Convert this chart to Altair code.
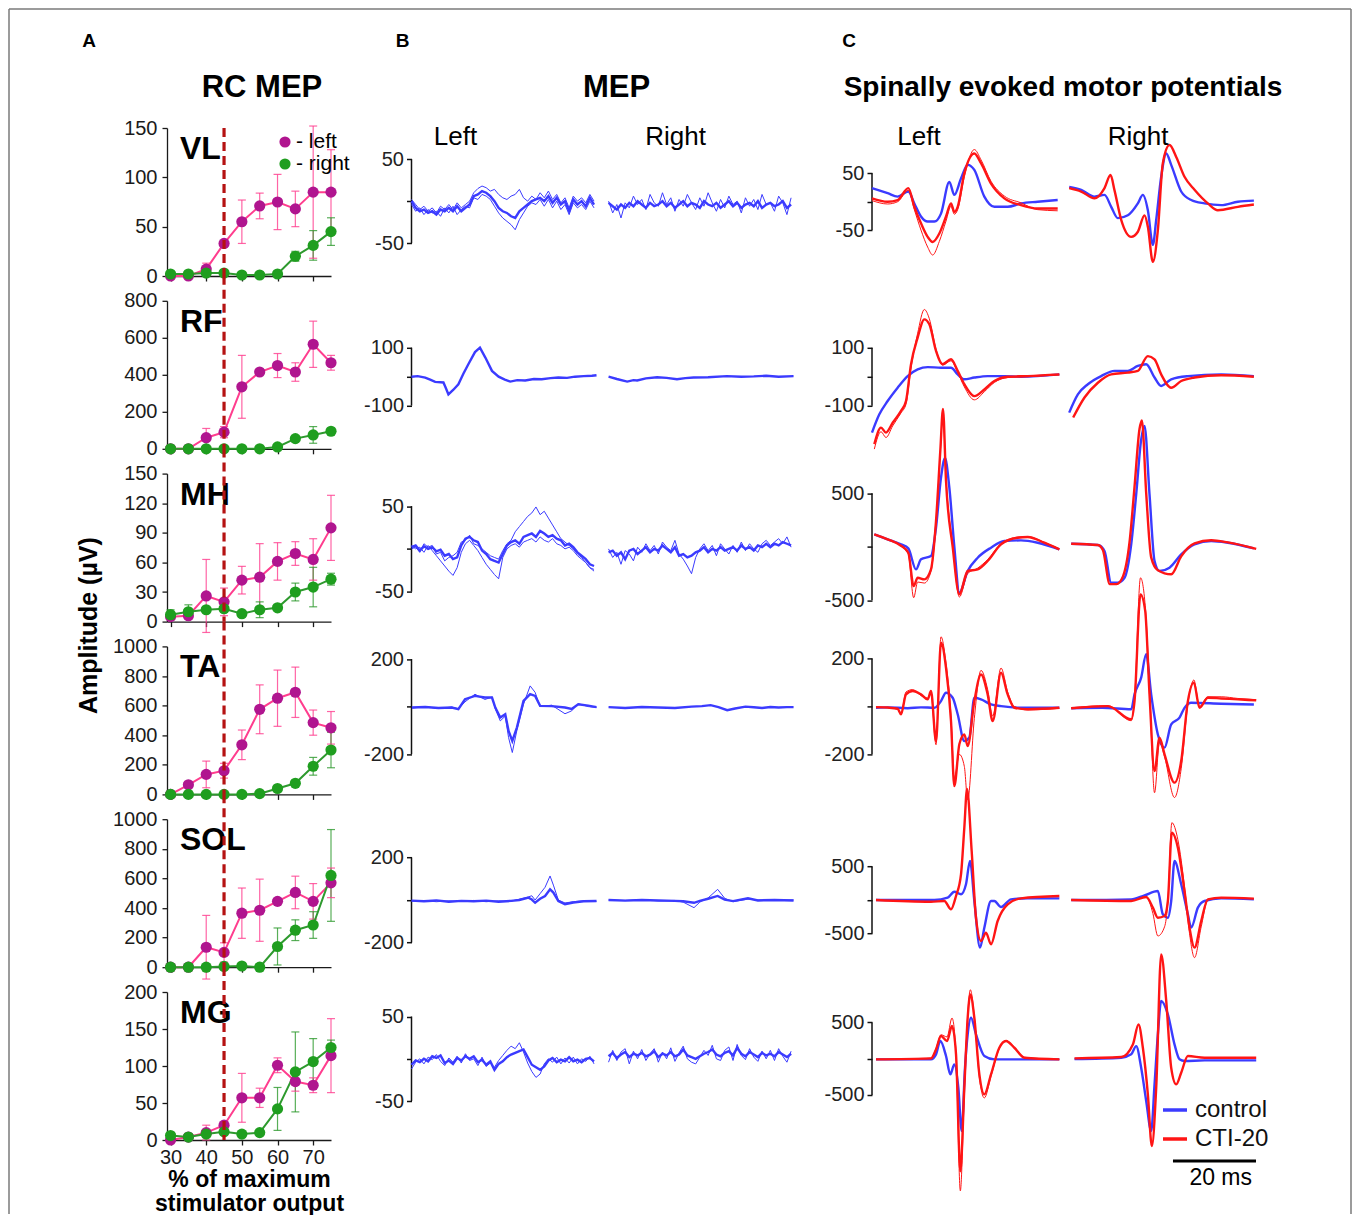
import altair as alt
import pandas as pd

FONT = "Liberation Sans"
INK = "#1a1a1a"
PINK = "#ff3d8e"
MAGENTA = "#b0158f"
GREEN = "#2e9a2e"
GREEN_DOT = "#1f9e1f"
BLUE = "#3b3bff"
RED = "#ff1515"
DASH_RED = "#b51212"

# ---------------- Panel A: recruitment curves ----------------
PCT = [30, 35, 40, 45, 50, 55, 60, 65, 70, 75]
MUSCLES = ["VL", "RF", "MH", "TA", "SOL", "MG"]
SIDES = ["left", "right"]
THRESHOLD = [45]

VL_LEFT = [0, 0, 7, 33, 55, 71, 75, 68, 85, 85]
VL_LEFT_ERR = [0, 0, 6, 0, 22, 13, 28, 18, 67, 43]
VL_RIGHT = [2, 2, 3, 3, 1, 1, 2, 20, 31, 45]
VL_RIGHT_ERR = [0, 0, 0, 0, 0, 0, 0, 5, 15, 14]

RF_LEFT = [0, 0, 60, 90, 335, 415, 450, 415, 565, 465]
RF_LEFT_ERR = [0, 0, 50, 30, 170, 10, 65, 50, 125, 40]
RF_RIGHT = [0, 0, 0, 0, 0, 0, 10, 55, 75, 95]
RF_RIGHT_ERR = [0, 0, 0, 0, 0, 0, 0, 0, 45, 10]

MH_LEFT = [5, 6, 26, 20, 42, 45, 61, 69, 63, 95]
MH_LEFT_ERR = [0, 0, 37, 14, 14, 34, 19, 12, 21, 33]
MH_RIGHT = [7, 10, 12, 13, 8, 12, 14, 30, 35, 43]
MH_RIGHT_ERR = [5, 7, 0, 0, 0, 8, 0, 9, 20, 6]

TA_LEFT = [0, 65, 135, 160, 335, 575, 650, 690, 485, 450]
TA_LEFT_ERR = [0, 0, 90, 50, 100, 165, 190, 170, 85, 110]
TA_RIGHT = [0, 0, 0, 0, 0, 5, 40, 75, 190, 300]
TA_RIGHT_ERR = [0, 0, 0, 0, 0, 0, 0, 0, 60, 120]

SOL_LEFT = [0, 0, 135, 100, 365, 385, 445, 505, 445, 570]
SOL_LEFT_ERR = [0, 0, 215, 65, 170, 210, 0, 110, 120, 100]
SOL_RIGHT = [0, 0, 0, 5, 8, 0, 140, 250, 285, 620]
SOL_RIGHT_ERR = [0, 0, 0, 0, 0, 0, 125, 70, 90, 310]

MG_LEFT = [0, 4, 10, 20, 57, 57, 101, 79, 74, 114]
MG_LEFT_ERR = [0, 0, 10, 0, 33, 13, 10, 13, 10, 50]
MG_RIGHT = [6, 4, 8, 11, 8, 10, 42, 92, 106, 125]
MG_RIGHT_ERR = [0, 0, 0, 0, 0, 0, 29, 54, 31, 10]

A_VALUES = [
    (VL_LEFT, VL_LEFT_ERR, VL_RIGHT, VL_RIGHT_ERR),
    (RF_LEFT, RF_LEFT_ERR, RF_RIGHT, RF_RIGHT_ERR),
    (MH_LEFT, MH_LEFT_ERR, MH_RIGHT, MH_RIGHT_ERR),
    (TA_LEFT, TA_LEFT_ERR, TA_RIGHT, TA_RIGHT_ERR),
    (SOL_LEFT, SOL_LEFT_ERR, SOL_RIGHT, SOL_RIGHT_ERR),
    (MG_LEFT, MG_LEFT_ERR, MG_RIGHT, MG_RIGHT_ERR),
]
A_YMAX = [150, 800, 150, 1000, 1000, 200]
A_YSTEP = [50, 200, 30, 200, 200, 50]

# ---------------- Panel B: MEP traces (µV vs ms) ----------------
T45 = list(range(45))

B_VL_L = [0, -8, -12, -10, -14, -12, -16, -10, -12, -8, -12, -6, -12, -8, -4, 6, 8, 12, 10, 6, 0, -8, -12, -14, -18, -20, -12, -8, -4, 0, 2, 4, 0, 6, -2, 4, -4, 0, -12, 2, -4, 0, -6, 4, -4]
B_VL_L_S1 = [2, -4, -10, -6, -12, -8, -14, -6, -10, -4, -10, -2, -8, -4, 0, 10, 15, 18, 16, 12, 14, 8, 4, 2, 6, 8, 14, 4, 0, 6, 2, 10, 4, 12, 2, 8, -2, 4, -8, 6, 0, 4, -2, 8, 0]
B_VL_L_S2 = [-4, -12, -8, -16, -10, -14, -12, -18, -8, -14, -6, -16, -10, -6, -8, 4, 2, 8, 6, 2, -6, -14, -20, -24, -28, -34, -22, -14, -6, -2, -4, 2, -6, 2, -8, 0, -10, -4, -16, -2, -8, -4, -10, 0, -8]
B_VL_R = [-2, -6, -10, -4, -8, -2, -6, 0, -4, -8, -2, -6, -4, 0, -6, -2, -8, -4, 0, -6, -2, -4, -8, 0, -4, -6, -2, -8, -4, 0, -6, -2, -8, -4, -2, -6, 0, -8, -4, -2, -6, -4, 0, -8, -4]
B_VL_R_S1 = [0, -14, -4, -20, -2, -8, 6, -4, 2, -10, 8, -2, -6, 10, -4, 4, -12, 2, -6, 8, -2, -10, 4, -6, 10, -2, -12, 2, -8, 6, -4, 0, -14, 4, -6, 2, -10, 8, -4, -2, -12, 6, -2, -16, 4]

B_RF_L_T = [0, 1.5, 3.3, 4.5, 5.7, 7.7, 8.3, 8.9, 10.1, 11.3, 12.5, 13.7, 15.3, 16.5, 17.8, 19.4, 21.0, 22.5, 23.8, 25.5, 27.4, 29.5, 31.4, 33.5, 35.4, 37.5, 39.4, 41.5, 43.5, 44.6]
B_RF_L = [0, 2, -3, -10, -18, -20, -40, -61, -45, -26, 10, 43, 85, 100, 66, 20, 0, -10, -17, -12, -13, -8, -9, -5, -3, -4, 0, 2, 3, 5]
B_RF_R_T = [0, 2, 4.5, 6, 6.9, 9, 11.7, 14, 16.5, 18.5, 20.5, 24, 28.5, 32, 35, 38, 41, 44.6]
B_RF_R = [0, -8, -17, -12, -13, -6, -2, -4, -9, -5, -3, -2, 2, 0, 1, 3, 0, 2]

B_MH_L = [2, 4, -2, 3, 0, 2, -3, -1, -8, -6, -12, -10, 4, 12, 14, 10, 8, -2, -6, -12, -14, -16, -6, 4, 8, 10, 6, 14, 16, 18, 14, 21, 18, 14, 16, 12, 10, 4, 6, 2, -4, -8, -12, -18, -20]
B_MH_L_S1 = [0, 2, -4, 6, 2, 4, -6, -4, -14, -10, -8, -4, 8, 10, 16, 6, 4, 0, -4, -8, -10, -12, -2, 6, 10, 20, 26, 32, 38, 42, 49, 40, 44, 36, 28, 20, 12, 8, 4, 0, -6, -10, -16, -22, -26]
B_MH_L_S2 = [4, 0, 2, -4, 4, -2, -8, -14, -20, -26, -31, -22, -4, 6, 10, 4, -2, -10, -18, -24, -30, -35, -10, 0, 4, 6, 2, 8, 10, 12, 8, 14, 10, 8, 12, 6, 4, 0, 2, -2, -8, -12, -16, -22, -24]
B_MH_R = [-4, -2, -8, -4, -12, -2, 0, -6, -2, 2, -4, 0, -2, 4, 0, -4, 2, -8, -6, -10, -8, -4, -2, 2, -4, 0, -2, 2, -2, 0, 2, -2, 4, 0, 2, -2, 4, 2, 6, 2, 6, 4, 8, 6, 4]
B_MH_R_S1 = [0, -10, -4, -18, -2, -6, -14, 2, -4, 6, -2, 4, -6, 8, 2, -2, 10, -6, -12, -20, -29, -10, 0, 6, -2, 4, -8, 6, 0, -6, 4, -4, 8, -2, 6, 0, -4, 6, 10, 4, 8, 12, 6, 14, 2]

B_TA_L_T = [0.1, 3.3, 6.5, 9.7, 11.3, 12.9, 15.3, 17.7, 19.4, 20.2, 21.4, 22.6, 23.4, 24.3, 25.4, 27.0, 28.6, 29.8, 31.0, 33.8, 37.0, 38.6, 40.2, 42.6, 44.6]
B_TA_L = [-4, -2, -6, -4, -11, 31, 45, 38, 38, -4, -46, -32, -102, -144, -88, 24, 52, 45, 3, 2, -4, -10, 10, 4, -2]
B_TA_L_S1 = [-6, 0, -8, -2, -9, 20, 52, 30, 40, -10, -60, -40, -130, -193, -100, 10, 87, 60, 0, 6, -30, -18, 12, 0, -4]
B_TA_R_T = [0, 4, 8, 12, 16, 20, 22.5, 24.6, 26.5, 28.6, 30.5, 33, 35, 37, 39, 41, 43, 44.6]
B_TA_R = [-2, -6, -2, -4, -6, 0, 2, 6, -2, -15, -8, 0, -3, -6, -2, -4, -2, -2]

B_SOL_L_T = [0, 3, 6, 9, 12, 15, 18, 21, 24, 26, 28.2, 29, 29.8, 31, 32.2, 33.4, 34.2, 35.4, 37, 39, 41.5, 44.6]
B_SOL_L = [-3, -6, -2, -8, -4, -6, -3, -8, -4, 0, 11, 2, -13, 6, 19, 50, 35, -5, -20, -12, -6, -5]
B_SOL_L_S1 = [-5, -3, -8, -4, -6, -2, -8, -4, -6, 4, 15, 20, 0, 30, 60, 113, 70, 0, -14, -8, -4, -6]
B_SOL_R_T = [0, 4, 8, 12, 16, 18, 20.6, 22, 24, 26.3, 28, 30, 33.6, 36, 40, 44.6]
B_SOL_R = [0, -3, 0, -2, -4, -6, -13, -4, 6, 19, 2, -5, 8, -2, 0, -2]
B_SOL_R_S1 = [0, -2, 2, -4, -2, -10, -36, -10, 10, 50, 8, -8, 4, 0, -2, 0]

B_MG_L = [-7, -2, -4, 0, -3, 3, 1, 4, -5, -2, -6, 1, -2, 3, 0, 3, -4, -1, -7, -3, -13, -6, -3, 2, 5, 7, 9, 11, 2, -7, -10, -13, -9, -2, 1, -4, -1, -3, 2, -3, -1, -4, 0, 1, -3]
B_MG_L_S1 = [-12, -4, 0, -6, 2, -1, 5, -3, -8, 1, -4, 3, -5, 6, -2, 0, -8, 2, -9, -5, -10, -2, 4, 10, 15, 12, 19, 8, -5, -15, -22, -18, -6, 0, -4, 2, -6, 1, -5, 2, -6, 0, -3, 3, -6]
B_MG_R = [3, 7, 1, 5, 8, 2, 6, 4, 7, 3, 5, 9, 2, 6, 4, 8, 3, 5, 11, 4, 2, 0, 3, 6, 8, 11, 5, 3, 7, 9, 4, 13, 6, 3, 8, 5, 2, 7, 4, 6, 3, 8, 5, 2, 6]
B_MG_R_S1 = [-4, 10, -2, 8, 12, -6, 9, 0, 11, -2, 6, 12, -4, 8, 0, 13, -3, 7, 15, 0, -4, -6, 2, 10, 4, 16, 0, -2, 10, 14, -2, 17, 4, -1, 12, 2, -3, 9, 0, 10, -2, 12, 3, -4, 9]

B_TRACES = [
    ("VL", "Left", "control", "sweep", T45, B_VL_L_S1),
    ("VL", "Left", "control", "sweep", T45, B_VL_L_S2),
    ("VL", "Left", "control", "mean", T45, B_VL_L),
    ("VL", "Right", "control", "sweep", T45, B_VL_R_S1),
    ("VL", "Right", "control", "mean", T45, B_VL_R),
    ("RF", "Left", "control", "mean", B_RF_L_T, B_RF_L),
    ("RF", "Right", "control", "mean", B_RF_R_T, B_RF_R),
    ("MH", "Left", "control", "sweep", T45, B_MH_L_S1),
    ("MH", "Left", "control", "sweep", T45, B_MH_L_S2),
    ("MH", "Left", "control", "mean", T45, B_MH_L),
    ("MH", "Right", "control", "sweep", T45, B_MH_R_S1),
    ("MH", "Right", "control", "mean", T45, B_MH_R),
    ("TA", "Left", "control", "sweep", B_TA_L_T, B_TA_L_S1),
    ("TA", "Left", "control", "mean", B_TA_L_T, B_TA_L),
    ("TA", "Right", "control", "mean", B_TA_R_T, B_TA_R),
    ("SOL", "Left", "control", "sweep", B_SOL_L_T, B_SOL_L_S1),
    ("SOL", "Left", "control", "mean", B_SOL_L_T, B_SOL_L),
    ("SOL", "Right", "control", "sweep", B_SOL_R_T, B_SOL_R_S1),
    ("SOL", "Right", "control", "mean", B_SOL_R_T, B_SOL_R),
    ("MG", "Left", "control", "sweep", T45, B_MG_L_S1),
    ("MG", "Left", "control", "mean", T45, B_MG_L),
    ("MG", "Right", "control", "sweep", T45, B_MG_R_S1),
    ("MG", "Right", "control", "mean", T45, B_MG_R),
]

# ---------------- Panel C: spinally evoked potentials (µV vs ms) ----------------
C_VL_L_BT = [0, 3.77, 6.18, 8.75, 10.20, 11.80, 13.41, 15.02, 16.62, 18.63, 19.83, 21.44, 23.05, 24.65, 27.06, 29.47, 32.68, 35.89, 39.91, 44.73]
C_VL_L_B = [24, 15, 9, 18, -3, -26, -35, -35, -21, 35, 12, 41, 65, 56, 9, -9, -9, -3, 0, 3]
C_VL_L_RT = [0, 3.77, 6.18, 8.75, 10.20, 11.80, 13.41, 14.61, 16.22, 17.83, 19.03, 19.83, 20.64, 22.24, 24.65, 26.26, 28.67, 31.88, 35.89, 39.91, 44.73]
C_VL_L_R = [6, 0, 3, 24, -9, -38, -62, -71, -56, -26, -3, -18, -9, 50, 85, 68, 32, 6, -6, -12, -12]
C_VL_L_R2 = [2, -4, 0, 20, -14, -50, -80, -94, -70, -34, -8, -22, -14, 44, 92, 74, 36, 10, -2, -14, -16]
C_VL_R_BT = [0, 2.89, 6.10, 8.51, 10.12, 11.72, 14.13, 16.54, 17.75, 18.95, 20.16, 20.96, 22.16, 23.37, 24.57, 26.98, 29.39, 32.60, 36.62, 40.63, 44.49]
C_VL_R_B = [26, 21, 9, 12, -9, -29, -24, -3, 12, -15, -76, -32, 44, 85, 65, 18, 3, -3, -6, 0, 2]
C_VL_R_RT = [0, 2.89, 6.10, 8.51, 9.96, 10.92, 12.53, 14.94, 16.54, 18.15, 18.95, 20.16, 21.36, 22.56, 24.17, 25.78, 27.78, 30.19, 33.40, 35.81, 40.63, 44.49]
C_VL_R_R = [24, 18, 6, 24, 47, 20, -32, -62, -53, -24, -44, -106, -50, 68, 100, 79, 44, 21, -3, -15, -9, -5]

C_RF_L_BT = [0, 1.77, 3.77, 6.18, 8.59, 11.00, 13.41, 16.62, 19.03, 20.64, 22.24, 24.65, 27.86, 31.88, 35.89, 45.13]
C_RF_L_B = [-193, -130, -84, -38, 2, 25, 33, 31, 31, 8, -9, -3, 2, 2, 0, 8]
C_RF_L_RT = [0.56, 2.17, 3.37, 4.98, 6.99, 8.19, 9.40, 11.00, 12.61, 13.81, 15.42, 17.02, 19.03, 20.64, 22.24, 24.65, 27.06, 29.47, 32.68, 37.50, 45.13]
C_RF_L_R = [-233, -176, -193, -159, -118, -84, 43, 135, 198, 181, 89, 43, 60, 20, -26, -67, -44, -15, 0, 2, 8]
C_RF_L_R2 = [-250, -190, -210, -170, -125, -95, 30, 150, 232, 200, 95, 40, 55, 15, -35, -80, -52, -20, -3, 0, 6]
C_RF_R_BT = [0, 2.09, 4.50, 7.71, 10.92, 14.13, 16.54, 18.55, 20.56, 22.16, 24.57, 28.59, 36.62, 44.49]
C_RF_R_B = [-124, -61, -26, 2, 20, 20, 37, 43, -3, -32, -9, 2, 8, 2]
C_RF_R_RT = [0.96, 3.69, 6.91, 10.12, 14.13, 16.54, 18.95, 20.56, 22.16, 24.57, 26.98, 30.19, 36.62, 44.49]
C_RF_R_R = [-141, -72, -21, 8, 14, 20, 71, 60, 8, -38, -15, -3, 5, 0]

C_MH_L_BT = [0.56, 3.77, 6.99, 8.75, 10.60, 11.80, 14.21, 15.42, 16.62, 17.59, 18.63, 19.83, 21.04, 23.05, 25.46, 28.67, 31.88, 35.89, 39.91, 45.13]
C_MH_L_B = [115, 69, 22, -16, -212, -118, -87, 178, 645, 829, 551, 0, -430, -227, -103, -9, 53, 59, 37, -25]
C_MH_L_RT = [0.56, 3.77, 6.99, 8.75, 10.04, 11.00, 12.61, 14.21, 15.42, 16.46, 17.10, 17.83, 19.43, 21.04, 23.05, 25.46, 27.86, 31.08, 35.09, 37.50, 41.52, 45.13]
C_MH_L_R = [115, 69, 9, -56, -368, -290, -305, -212, 240, 900, 1287, 614, 0, -445, -227, -212, -134, 22, 84, 90, 37, -25]
C_MH_L_R2 = [115, 69, 5, -70, -477, -330, -340, -230, 220, 880, 1250, 640, 20, -470, -250, -200, -120, 30, 90, 95, 40, -20]
C_MH_R_BT = [0.48, 6.91, 8.51, 10.12, 11.72, 13.33, 14.94, 16.14, 17.34, 18.15, 19.35, 20.56, 21.76, 24.17, 26.98, 30.19, 34.21, 38.22, 44.49]
C_MH_R_B = [28, 16, -40, -336, -336, -290, 22, 489, 1000, 1128, 489, -134, -227, -196, -72, 22, 53, 37, -16]
C_MH_R_RT = [0.48, 6.91, 8.11, 9.79, 11.40, 12.93, 14.53, 15.74, 16.94, 17.51, 18.55, 19.75, 21.36, 24.57, 26.98, 30.19, 34.21, 38.22, 45.05]
C_MH_R_R = [28, 16, -30, -350, -350, -280, 40, 560, 1100, 1180, 500, -100, -220, -258, -90, 30, 60, 40, -20]

C_TA_L_BT = [0.96, 3.77, 8.59, 11.80, 15.02, 16.62, 17.83, 19.43, 20.64, 22.24, 23.45, 24.65, 26.26, 28.67, 31.08, 35.89, 45.13]
C_TA_L_B = [-6, -4, -8, -4, -6, 22, 57, 36, -33, -145, -130, 36, 29, 8, 1, -6, -6]
C_TA_L_RT = [0.96, 3.77, 6.18, 6.99, 8.19, 9.80, 11.80, 13.41, 14.21, 15.42, 16.62, 17.83, 19.03, 19.83, 21.04, 22.24, 23.05, 24.65, 26.26, 27.86, 29.07, 31.08, 32.68, 34.29, 37.50, 45.13]
C_TA_L_R = [-3, -5, -10, -33, 50, 64, 50, 29, 64, -145, 265, 161, -61, -332, -158, -117, -165, 22, 133, 50, -61, 140, 50, -6, -12, -6]
C_TA_L_R2 = [-3, -5, -12, -30, 60, 70, 45, 35, 55, -160, 290, 180, -40, -300, -200, -250, -390, -50, 150, 70, -40, 160, 60, 0, -15, -8]
C_TA_R_BT = [0.48, 8, 14.94, 15.74, 17.34, 18.55, 19.75, 21.36, 22.97, 24.57, 26.58, 27.78, 29.39, 36.62, 44.49]
C_TA_R_B = [-8, -6, -12, 50, 120, 217, 50, -117, -172, -75, -47, -6, 15, 11, 8]
C_TA_R_RT = [0.48, 9.31, 14.94, 15.74, 17.18, 18.31, 19.35, 20.56, 21.76, 22.97, 25.37, 26.98, 28.59, 30.03, 31.40, 33.40, 36.62, 40.63, 45.05]
C_TA_R_R = [-8, 1, -54, 22, 467, 398, 50, -270, -131, -200, -318, -228, 22, 99, -6, 36, 33, 29, 25]
C_TA_R_R2 = [-6, 3, -60, 30, 536, 420, 80, -360, -150, -210, -380, -260, 10, 110, 0, 40, 40, 33, 28]

C_SOL_L_BT = [0.96, 15.02, 18.23, 19.83, 21.44, 22.64, 23.61, 24.65, 26.02, 27.06, 28.67, 29.47, 31.08, 33.49, 37.50, 45.13]
C_SOL_L_B = [0, 0, 35, 124, 85, 234, 582, -15, -711, -413, -15, -15, -104, 10, 25, 25]
C_SOL_L_RT = [0.96, 14.21, 17.43, 19.03, 20.24, 21.44, 22.24, 22.89, 24.01, 25.05, 26.26, 27.46, 28.67, 30.27, 32.68, 35.89, 45.13]
C_SOL_L_R = [0, -25, -15, -139, 60, 383, 1080, 1657, 731, -264, -612, -488, -662, -313, -65, 25, 60]
C_SOL_R_BT = [0.48, 14.94, 18.15, 21.36, 22.56, 23.77, 24.57, 25.37, 26.98, 28.59, 29.39, 31.00, 32.60, 36.62, 44.49]
C_SOL_R_B = [0, 10, 70, 134, -214, -264, -15, 582, 234, -214, -413, -114, -15, 25, 10]
C_SOL_R_RT = [0.48, 14.94, 18.55, 20.16, 21.36, 22.97, 23.77, 24.73, 26.18, 27.78, 28.99, 30.19, 31.80, 33.40, 36.62, 44.49]
C_SOL_R_R = [0, -15, 45, -114, -264, -239, -15, 1005, 781, 134, -413, -711, -313, 10, 35, 20]
C_SOL_R_R2 = [0, -10, 50, -200, -537, -400, -30, 1154, 900, 200, -500, -860, -400, 0, 30, 20]

C_MG_L_BT = [0.96, 14.21, 15.42, 16.46, 17.83, 18.87, 19.83, 20.80, 21.60, 22.40, 23.05, 23.85, 25.05, 27.06, 29.47, 45.13]
C_MG_L_B = [-9, -9, 60, 243, 37, -216, -78, -399, -995, -124, 335, 564, 335, 37, -9, -9]
C_MG_L_RT = [0.96, 14.21, 15.42, 16.62, 18.07, 19.27, 20.24, 21.28, 22.24, 23.05, 23.69, 24.65, 25.86, 27.06, 28.67, 30.67, 32.28, 34.29, 36.70, 45.13]
C_MG_L_R = [-9, 5, 128, 312, 243, 450, 60, -1550, -400, 564, 885, 564, -216, -491, -216, 151, 243, 151, 14, -9]
C_MG_L_R2 = [-9, 8, 140, 330, 300, 560, 80, -1821, -450, 600, 950, 580, -260, -540, -240, 140, 250, 160, 20, -9]
C_MG_R_BT = [1.28, 12.53, 14.94, 16.14, 17.34, 18.55, 19.75, 20.56, 21.36, 22.16, 23.77, 25.37, 26.58, 27.78, 32.60, 45.05]
C_MG_R_B = [-5, 14, 60, 174, -124, -583, -995, -354, 335, 794, 610, 197, -9, -32, -23, -23]
C_MG_R_RT = [1.28, 12.53, 15.34, 16.70, 17.75, 18.95, 19.91, 20.96, 22.16, 23.37, 24.57, 25.78, 26.98, 28.59, 32.60, 45.05]
C_MG_R_R = [5, 23, 197, 472, 151, -491, -1202, -400, 1436, 800, -124, -353, -193, 37, 14, 14]

C_TRACES = [
    ("VL", "Left", "control", "mean", C_VL_L_BT, C_VL_L_B),
    ("VL", "Left", "CTI-20", "sweep", C_VL_L_RT, C_VL_L_R2),
    ("VL", "Left", "CTI-20", "mean", C_VL_L_RT, C_VL_L_R),
    ("VL", "Right", "control", "mean", C_VL_R_BT, C_VL_R_B),
    ("VL", "Right", "CTI-20", "mean", C_VL_R_RT, C_VL_R_R),
    ("RF", "Left", "control", "mean", C_RF_L_BT, C_RF_L_B),
    ("RF", "Left", "CTI-20", "sweep", C_RF_L_RT, C_RF_L_R2),
    ("RF", "Left", "CTI-20", "mean", C_RF_L_RT, C_RF_L_R),
    ("RF", "Right", "control", "mean", C_RF_R_BT, C_RF_R_B),
    ("RF", "Right", "CTI-20", "mean", C_RF_R_RT, C_RF_R_R),
    ("MH", "Left", "control", "mean", C_MH_L_BT, C_MH_L_B),
    ("MH", "Left", "CTI-20", "sweep", C_MH_L_RT, C_MH_L_R2),
    ("MH", "Left", "CTI-20", "mean", C_MH_L_RT, C_MH_L_R),
    ("MH", "Right", "control", "mean", C_MH_R_BT, C_MH_R_B),
    ("MH", "Right", "CTI-20", "mean", C_MH_R_RT, C_MH_R_R),
    ("TA", "Left", "control", "mean", C_TA_L_BT, C_TA_L_B),
    ("TA", "Left", "CTI-20", "sweep", C_TA_L_RT, C_TA_L_R2),
    ("TA", "Left", "CTI-20", "mean", C_TA_L_RT, C_TA_L_R),
    ("TA", "Right", "control", "mean", C_TA_R_BT, C_TA_R_B),
    ("TA", "Right", "CTI-20", "sweep", C_TA_R_RT, C_TA_R_R2),
    ("TA", "Right", "CTI-20", "mean", C_TA_R_RT, C_TA_R_R),
    ("SOL", "Left", "control", "mean", C_SOL_L_BT, C_SOL_L_B),
    ("SOL", "Left", "CTI-20", "mean", C_SOL_L_RT, C_SOL_L_R),
    ("SOL", "Right", "control", "mean", C_SOL_R_BT, C_SOL_R_B),
    ("SOL", "Right", "CTI-20", "sweep", C_SOL_R_RT, C_SOL_R_R2),
    ("SOL", "Right", "CTI-20", "mean", C_SOL_R_RT, C_SOL_R_R),
    ("MG", "Left", "control", "mean", C_MG_L_BT, C_MG_L_B),
    ("MG", "Left", "CTI-20", "sweep", C_MG_L_RT, C_MG_L_R2),
    ("MG", "Left", "CTI-20", "mean", C_MG_L_RT, C_MG_L_R),
    ("MG", "Right", "control", "mean", C_MG_R_BT, C_MG_R_B),
    ("MG", "Right", "CTI-20", "mean", C_MG_R_RT, C_MG_R_R),
]

# y-scale settings (µV) and amplitude-bracket half-ranges per row
B_YDOM = [[-89, 87], [-249, 262], [-85, 88], [-369, 253], [-316, 380], [-96, 79]]
B_RANGE = [50, 100, 50, 200, 200, 50]
C_YDOM = [[-131, 130], [-249, 262], [-700, 683], [-367, 250], [-1003, 1206], [-1120, 919]]
C_RANGE = [50, 100, 500, 200, 500, 500]
SCALE_BAR_MS = [72.5, 92.5]

# ---------------- layout constants ----------------
ROW_H = 148
A_W, B_W, C_W = 164, 380, 384
B_XMAX, C_XMAX = 91.6, 92.5
RIGHT_START = 47.5
CONDS = ["control", "CTI-20"]
KINDS = ["sweep", "mean"]


def text_layer(txt, x, y, size, bold=False, align="center", angle=None):
    mk = dict(align=align, baseline="middle", fontSize=size, color="#000", font=FONT)
    if bold:
        mk["fontWeight"] = "bold"
    if angle is not None:
        mk["angle"] = angle
    return alt.Chart(pd.DataFrame({"t": [txt]})).mark_text(**mk).encode(
        x=alt.value(x), y=alt.value(y), text="t:N")


def frame_line(x, x2, y, y2):
    return alt.Chart(pd.DataFrame({"k": [0]})).mark_rule(color="#7a7a7a", strokeWidth=1.5).encode(
        x=alt.value(x), x2=alt.value(x2), y=alt.value(y), y2=alt.value(y2))


def a_cell(i):
    m = MUSCLES[i]
    left, left_err, right, right_err = A_VALUES[i]
    rows = []
    for side, vals, errs in (("left", left, left_err), ("right", right, right_err)):
        for p, v, e in zip(PCT, vals, errs):
            rows.append({"pct": p, "side": side, "val": v, "err": e, "lo": v - e, "hi": v + e})
    df = pd.DataFrame(rows)
    last = i == len(MUSCLES) - 1
    ymax, ystep = A_YMAX[i], A_YSTEP[i]
    xs = alt.Scale(domain=[29, 75], nice=False)
    ys = alt.Scale(domain=[0, ymax], nice=False)
    if last:
        x_axis = alt.Axis(values=[30, 40, 50, 60, 70], labelFlush=False, tickSize=5,
                          labelFontSize=20, labelPadding=2, titleFontSize=23,
                          titleFontWeight="bold", titleLineHeight=24, titlePadding=1,
                          titleColor="#000", grid=False)
        x_title = ["% of maximum", "stimulator output"]
    else:
        x_axis = alt.Axis(values=[30, 40, 50, 60, 70], labels=False, tickSize=5, grid=False)
        x_title = None
    y_axis = alt.Axis(values=list(range(0, ymax + 1, ystep)), format="d", grid=False,
                      tickSize=5, labelFontSize=20, labelPadding=5)

    def X(f):
        return alt.X(f, scale=xs, axis=x_axis, title=x_title)

    def Y(f):
        return alt.Y(f, scale=ys, axis=y_axis, title=None)

    stroke = alt.Stroke("side:N", scale=alt.Scale(domain=SIDES, range=[PINK, GREEN]), legend=None)
    fill_scale = alt.Scale(domain=SIDES, range=[MAGENTA, GREEN_DOT])
    fill = alt.Fill("side:N", scale=fill_scale, legend=None)

    base = alt.Chart(df)
    errs = base.transform_filter("datum.err > 0")
    layers = []
    if i == 0:
        layers += [frame_line(-158, 1184, -119, -119),
                   frame_line(-158, -158, -119, 1086),
                   frame_line(1184, 1184, -119, 1086)]
    layers += [
        errs.mark_rule(strokeWidth=1.2, opacity=0.8).encode(
            x=X("pct:Q"), y=Y("lo:Q"), y2="hi:Q", stroke=stroke),
        errs.mark_rule(strokeWidth=1.2, opacity=0.8, xOffset=-4, x2Offset=4).encode(
            x=X("pct:Q"), x2="pct:Q", y=Y("hi:Q"), stroke=stroke),
        errs.mark_rule(strokeWidth=1.2, opacity=0.8, xOffset=-4, x2Offset=4).encode(
            x=X("pct:Q"), x2="pct:Q", y=Y("lo:Q"), stroke=stroke),
        base.mark_line(strokeWidth=2).encode(x=X("pct:Q"), y=Y("val:Q"), stroke=stroke),
        base.mark_circle(size=125, opacity=1).encode(x=X("pct:Q"), y=Y("val:Q"), fill=fill),
        text_layer(m, 13, 21, 32, bold=True, align="left"),
        alt.Chart(pd.DataFrame({"thr": THRESHOLD})).mark_rule(
            color=DASH_RED, strokeWidth=3.2, strokeDash=[9, 5]).encode(
            x=X("thr:Q"), y=alt.value(0 if i == 0 else -25), y2=alt.value(ROW_H)),
    ]
    if i == 0:
        # key for the two sides (symbol + label)
        for k, side in enumerate(SIDES):
            layers.append(alt.Chart(pd.DataFrame({"side": [side]})).mark_circle(
                size=125, opacity=1).encode(
                x=alt.value(118), y=alt.value(14 + 22 * k), fill=fill))
            layers.append(text_layer("- " + side, 129, 14 + 22 * k, 21, align="left"))
        layers += [text_layer("A", -78, -87, 19, bold=True),
                   text_layer("RC MEP", 95, -40, 31, bold=True)]
    if i == 2:
        layers.append(text_layer("Amplitude (µV)", -78, 152, 25, bold=True, angle=270))
    return alt.layer(*layers).properties(width=A_W, height=ROW_H)


def trace_frame(traces, muscle):
    rows = []
    for k, (m, side, cond, kind, ts, vs) in enumerate(traces):
        if m != muscle:
            continue
        for t, v in zip(ts, vs):
            rows.append({"side": side, "cond": cond, "kind": kind, "id": k, "t": t, "v": v})
    return pd.DataFrame(rows)


def trace_cell(panel, i):
    m = MUSCLES[i]
    isB = panel == "B"
    df = trace_frame(B_TRACES if isB else C_TRACES, m)
    R = (B_RANGE if isB else C_RANGE)[i]
    ydom = (B_YDOM if isB else C_YDOM)[i]
    xs = alt.Scale(domain=[0, B_XMAX if isB else C_XMAX], nice=False)
    ys = alt.Scale(domain=ydom, nice=False, zero=False)
    y_axis = alt.Axis(values=[-R, 0, R], labelExpr="datum.value == 0 ? '' : '' + datum.value",
                      domain=False, grid=False, tickSize=5, tickWidth=1.5, tickColor="#111",
                      labelFontSize=20, labelColor="#222", labelPadding=3)
    bracket = alt.Chart(pd.DataFrame({"z": [0], "lo": [-R], "hi": [R]})).mark_rule(
        color="#111", strokeWidth=1.5).encode(
        x=alt.X("z:Q", scale=xs, axis=None),
        y=alt.Y("lo:Q", scale=ys, axis=y_axis, title=None), y2="hi:Q")
    base = alt.Chart(df).transform_calculate(
        x=f"datum.t + (datum.side == 'Right' ? {RIGHT_START} : 0)")
    sw = alt.StrokeWidth("kind:N", scale=alt.Scale(domain=KINDS, range=[1.0, 2.4]), legend=None)
    enc = dict(x=alt.X("x:Q", scale=xs, axis=None),
               y=alt.Y("v:Q", scale=ys, axis=y_axis, title=None),
               detail="id:N", strokeWidth=sw)
    layers = [bracket]
    if isB:
        layers.append(base.mark_line(color=BLUE, clip=False).encode(**enc))
    else:
        if i == 5:
            leg = alt.Legend(orient="none", legendX=289, legendY=104, title=None,
                             labelFontSize=24, labelFont=FONT, symbolType="stroke",
                             symbolSize=576, symbolStrokeWidth=3.5, labelOffset=6,
                             rowPadding=3, padding=0, labelColor="#111")
            stroke = alt.Stroke("cond:N", scale=alt.Scale(domain=CONDS, range=[BLUE, RED]),
                                legend=leg)
        else:
            stroke = alt.Stroke("cond:N", scale=alt.Scale(domain=CONDS, range=[BLUE, RED]),
                                legend=None)
        for cond in CONDS:
            layers.append(base.transform_filter(f"datum.cond == '{cond}'").mark_line(
                clip=False, interpolate="monotone").encode(stroke=stroke, **enc))
    if i == 0:
        if isB:
            layers += [text_layer("B", -9, -87, 19, bold=True),
                       text_layer("MEP", 205, -40, 31, bold=True),
                       text_layer("Left", 44, 9, 26), text_layer("Right", 264, 9, 26)]
        else:
            layers += [text_layer("C", -23, -87, 19, bold=True),
                       text_layer("Spinally evoked motor potentials", 191, -40, 28, bold=True),
                       text_layer("Left", 47, 9, 26), text_layer("Right", 266, 9, 26)]
    if (not isB) and i == 5:
        layers.append(alt.Chart(pd.DataFrame({"a": [SCALE_BAR_MS[0]], "b": [SCALE_BAR_MS[1]], "yy": [-1409]}))
                      .mark_rule(color="#000", strokeWidth=3).encode(
                          x=alt.X("a:Q", scale=xs, axis=None), x2="b:Q",
                          y=alt.Y("yy:Q", scale=ys, axis=y_axis, title=None)))
        layers.append(alt.Chart(pd.DataFrame({"xx": [84], "yy": [-1643], "t": ["20 ms"]}))
                      .mark_text(fontSize=23, font=FONT, color="#000", baseline="middle").encode(
                          x=alt.X("xx:Q", scale=xs, axis=None),
                          y=alt.Y("yy:Q", scale=ys, axis=y_axis, title=None), text="t:N"))
    return alt.layer(*layers).properties(width=B_W if isB else C_W, height=ROW_H)


cells = []
for i in range(len(MUSCLES)):
    cells += [a_cell(i), trace_cell("B", i), trace_cell("C", i)]

chart = alt.concat(
    *cells, columns=3, spacing={"row": 24.8, "column": 80.5}, bounds="flush"
).resolve_scale(
    x="independent", y="independent", stroke="independent", fill="independent"
).properties(
    padding=0, autosize=alt.AutoSizeParams(type="pad")
).configure(font=FONT).configure_view(stroke=None).configure_axis(
    domainColor=INK, tickColor=INK, labelColor=INK, labelFont=FONT, titleFont=FONT,
    domainWidth=1.3, tickWidth=1.3
)

chart.save("out.html", embed_options={"renderer": "svg", "actions": False})
